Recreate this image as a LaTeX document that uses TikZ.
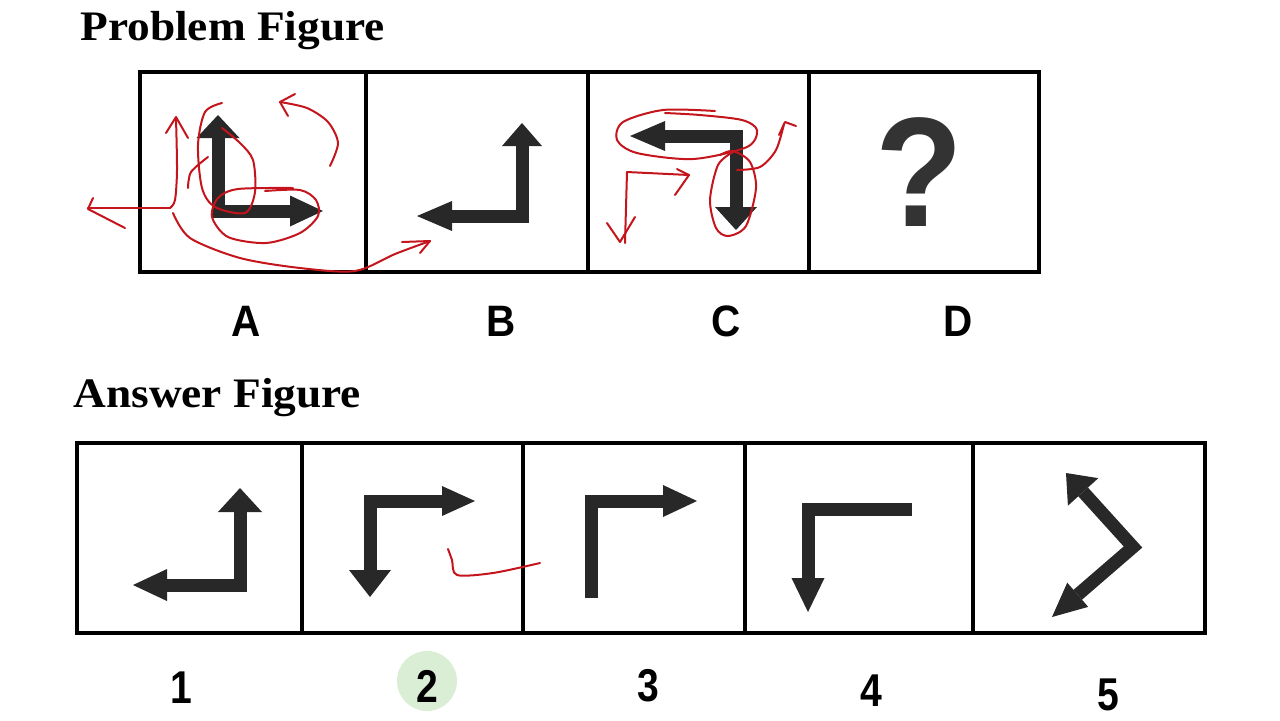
\documentclass[tikz,border=0pt]{standalone}
\usepackage{fontspec}
\setmainfont{Liberation Serif}
\newfontfamily\titlefont[FakeStretch=1.08]{Liberation Serif}
\newfontfamily\labelfont[FakeStretch=0.92]{Liberation Sans}
\newfontfamily\numfont[FakeStretch=0.85]{Liberation Sans}
\usetikzlibrary{arrows.meta}
\definecolor{arrowgray}{RGB}{40,40,40}
\definecolor{penred}{RGB}{196,20,28}
\definecolor{markgreen}{RGB}{218,237,213}
\tikzset{
  cell/.style={draw, line width=2pt, inner sep=0pt, outer sep=0pt},
  fatarrow/.style={draw=arrowgray, line width=6.5pt, line join=miter},
  twoheads/.style n args={4}{arrows={Triangle[length=#1,width=#2,line width=0pt]-Triangle[length=#3,width=#4,line width=0pt]}},
  onehead/.style 2 args={arrows={-Triangle[length=#1,width=#2,line width=0pt]}},
  scribble/.style={draw=penred, line width=1pt, line cap=round, line join=round},
  title/.style={font=\titlefont\bfseries\fontsize{21}{24}\selectfont, inner sep=0pt},
  lbl/.style={font=\labelfont\bfseries\fontsize{22}{26}\selectfont, inner sep=0pt},
  numlbl/.style={font=\numfont\bfseries\fontsize{23}{27}\selectfont, inner sep=0pt}
}
\begin{document}
\begin{tikzpicture}[x=0.5pt, y=-0.5pt]
    \useasboundingbox (0,0) rectangle (1280,720);

    % Titles
    \node[title, anchor=base west] (probtitle) at (80,40) {Problem Figure};
    \node[title, anchor=base west] (anstitle) at (73,407) {Answer Figure};

    % Problem figure - cells
    \node[cell, minimum width=113pt, minimum height=100pt] (cellA) at (253,172) {};
    \node[cell, minimum width=111pt, minimum height=100pt] (cellB) at (477,172) {};
    \node[cell, minimum width=110.5pt, minimum height=100pt] (cellC) at (698.5,172) {};
    \node[cell, minimum width=115pt, minimum height=100pt] (cellD) at (924,172) {};

    % Problem figure - arrows
    \draw[fatarrow, twoheads={11.5pt}{21.5pt}{16.5pt}{15.5pt}] (218,115) -- (218,211) -- (323,211);
    \draw[fatarrow, twoheads={11.5pt}{20pt}{17.5pt}{15pt}] (522,123) -- (522,216) -- (417,216);
    \draw[fatarrow, twoheads={17.5pt}{15pt}{11.5pt}{21pt}] (630,136) -- (736,136) -- (736,230);
    \node[font=\labelfont\bfseries\fontsize{78}{78}\selectfont, text=arrowgray!95!white, inner sep=0pt] (qmark) at (919,172) {?};

    % Problem figure - labels
    \node[lbl] (labA) at (246,321) {A};
    \node[lbl] (labB) at (501,321) {B};
    \node[lbl] (labC) at (726,321) {C};
    \node[lbl] (labD) at (958,321) {D};

    % Answer figure - cells
    \node[cell, minimum width=112.5pt, minimum height=95pt] (ans1) at (189.5,538) {};
    \node[cell, minimum width=110.5pt, minimum height=95pt] (ans2) at (412.5,538) {};
    \node[cell, minimum width=111pt, minimum height=95pt] (ans3) at (634,538) {};
    \node[cell, minimum width=114pt, minimum height=95pt] (ans4) at (859,538) {};
    \node[cell, minimum width=116pt, minimum height=95pt] (ans5) at (1089,538) {};

    % Answer figure - arrows
    \draw[fatarrow, twoheads={12pt}{22pt}{17pt}{16pt}] (240,488) -- (240,585) -- (133,585);
    \draw[fatarrow, twoheads={13.5pt}{21pt}{16.5pt}{15pt}] (370,597) -- (370,501) -- (475,501);
    \draw[fatarrow, onehead={17pt}{16pt}] (591,598) -- (591,501) -- (697,501);
    \draw[fatarrow, onehead={17pt}{16.5pt}] (912,509) -- (808,509) -- (808,612);
    \draw[fatarrow, twoheads={12.75pt}{20.5pt}{17pt}{16pt}] (1066,473) -- (1133,547) -- (1052,617);

    % Answer figure - labels
    \fill[markgreen] (427,681) circle (30);
    \node[numlbl] (num1) at (181,688) {1};
    \node[numlbl] (num2) at (427,686) {2};
    \node[numlbl] (num3) at (648,686) {3};
    \node[numlbl] (num4) at (871,691) {4};
    \node[numlbl] (num5) at (1108,695) {5};

    % Red pen marks on A
    \draw[scribble] (125,228) -- (88,209) -- (93,198);
    \draw[scribble] (88,208) -- (170,208);
    \draw[scribble] plot[smooth] coordinates {(170,208) (175,200) (177,170) (176,118)};
    \draw[scribble] (166,133) -- (176,117) -- (188,138);
    \draw[scribble] plot[smooth] coordinates {(173,213) (190,238) (240,258) (300,268) (355,271) (395,254) (430,241)};
    \draw[scribble] (402,242) -- (430,241) -- (420,253);
    \draw[scribble] plot[smooth] coordinates {(188,188) (191,172) (208,157)};
    \draw[scribble] plot[smooth] coordinates {(222,103) (205,112) (198,145) (202,188) (215,207) (245,213) (255,192) (253,160) (240,143) (222,128)};
    \draw[scribble] plot[smooth] coordinates {(265,191) (300,190) (316,200) (318,216) (300,233) (266,243) (228,237) (212,217) (218,198) (238,189) (293,188)};
    \draw[scribble] plot[smooth] coordinates {(330,166) (338,143) (328,122) (307,108) (280,102)};
    \draw[scribble] (295,94) -- (280,102) -- (288,116);

    % Red pen marks on C
    \draw[scribble] plot[smooth] coordinates {(715,111) (663,110) (623,122) (617,140) (637,153) (693,159) (747,147) (757,130) (742,120) (700,115) (665,113)};
    \draw[scribble] plot[smooth] coordinates {(733,152) (718,165) (710,200) (716,228) (728,236) (746,226) (756,188) (750,162) (733,151) (720,155)};
    \draw[scribble] plot[smooth] coordinates {(737,170) (760,167) (776,150) (784,124)};
    \draw[scribble] (779,135) -- (785,122) -- (796,126);
    \draw[scribble] (627,172) -- (625,243);
    \draw[scribble] (627,172) -- (689,175);
    \draw[scribble] (677,169) -- (689,175) -- (675,195);
    \draw[scribble] (607,223) -- (620,242) -- (635,217);

    % Red pen mark between 2 and 3
    \draw[scribble] plot[smooth] coordinates {(448,549) (452,560) (457,575) (493,573) (540,563)};
\end{tikzpicture}
\end{document}
